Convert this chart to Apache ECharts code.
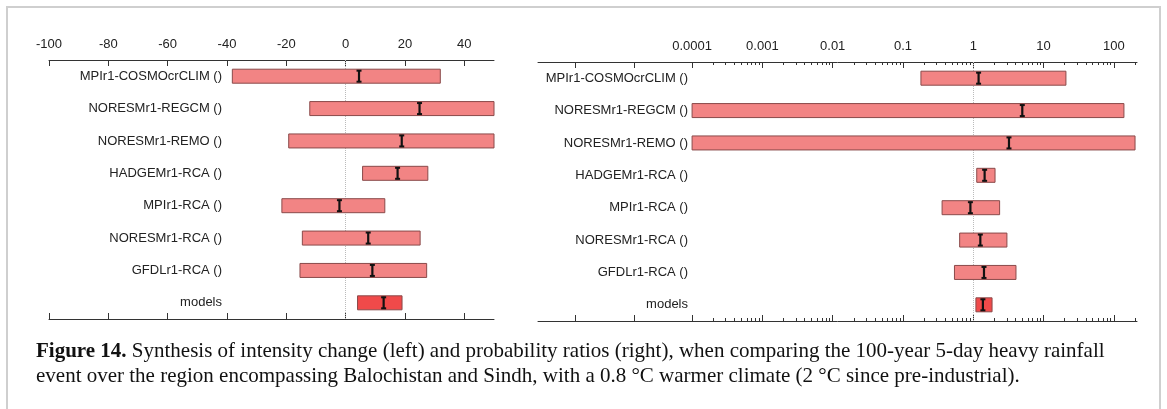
<!DOCTYPE html>
<html>
<head>
<meta charset="utf-8">
<script src="https://cdn.jsdelivr.net/npm/echarts@6/dist/echarts.min.js"></script>
<style>
  html, body { margin: 0; padding: 0; background: #fff; }
  #chart { width: 1167px; height: 409px; }
</style>
</head>
<body>
<div id="chart"></div>
<script>
const models = ['MPIr1-COSMOcrCLIM ()', 'NORESMr1-REGCM ()', 'NORESMr1-REMO ()', 'HADGEMr1-RCA ()',
  'MPIr1-RCA ()', 'NORESMr1-RCA ()', 'GFDLr1-RCA ()', 'models'];

// intensity change (%), left panel
const intLow = [-38.2, -12.1, -19.2, 5.7, -21.5, -14.6, -15.4, 4.0];
const intBest = [4.5, 24.9, 18.9, 17.5, -2.1, 7.6, 9.0, 12.8];
const intHigh = [31.9, 50, 50, 27.7, 13.2, 25.1, 27.3, 19.0];

// probability ratio, right panel
const prLow = [0.18, 0.0001, 0.0001, 1.12, 0.36, 0.64, 0.54, 1.09];
const prBest = [1.19, 4.98, 3.22, 1.45, 0.91, 1.26, 1.42, 1.37];
const prHigh = [20.8, 139, 200, 2.04, 2.37, 3.01, 4.05, 1.85];

const intTicks = [-100, -80, -60, -40, -20, 0, 20, 40];
const prTickLabels = ['0.0001', '0.001', '0.01', '0.1', '1', '10', '100'];
const prExtraTicks = [0.00000216, 0.0000151]; // unlabelled ticks left of 0.0001

const lg = v => Math.log10(v);
const prMajor = prTickLabels.map(t => lg(Number(t)));
const prMinor = [];
prTickLabels.forEach(t => {
  for (let m = 2; m <= 9; m++) {
    const v = m * Number(t);
    if (v <= 210) prMinor.push(lg(v));
  }
});
const prMin = -6.192;
const prMax = 2.329;

const FONT = '"Liberation Sans", Arial, sans-serif';
const AXIS_COLOR = '#333';

function renderRange(params, api) {
  const row = api.value(2);
  const p0 = api.coord([api.value(0), row]);
  const p1 = api.coord([api.value(1), row]);
  const pm = api.coord([api.value(3), row]);
  const h = 14;
  const top = p0[1] - h / 2;
  const bot = p0[1] + h / 2;
  const isAll = row === models.length - 1;
  return {
    type: 'group',
    children: [
      {
        type: 'rect',
        shape: { x: p0[0], y: top, width: p1[0] - p0[0], height: h },
        style: { fill: isAll ? '#f04a4a' : '#f28484', stroke: '#8a4a4a', lineWidth: 1 },
      },
      {
        type: 'line',
        shape: { x1: pm[0], y1: top + 1, x2: pm[0], y2: bot - 1 },
        style: { stroke: '#111', lineWidth: 2.2 },
      },
      {
        type: 'line',
        shape: { x1: pm[0] - 2.5, y1: top + 1.5, x2: pm[0] + 2.5, y2: top + 1.5 },
        style: { stroke: '#111', lineWidth: 2 },
      },
      {
        type: 'line',
        shape: { x1: pm[0] - 2.5, y1: bot - 1.5, x2: pm[0] + 2.5, y2: bot - 1.5 },
        style: { stroke: '#111', lineWidth: 2 },
      },
    ],
  };
}

function xAxis(grid, position, min, max, ticks, tickLen, labels, formatter, showLine) {
  return {
    gridIndex: grid,
    type: 'value',
    position: position,
    min: min,
    max: max,
    axisLine: { show: showLine, lineStyle: { color: AXIS_COLOR, width: 1 } },
    axisTick: { show: true, inside: true, length: tickLen, customValues: ticks, lineStyle: { color: AXIS_COLOR } },
    axisLabel: labels
      ? { show: true, customValues: labels, margin: 9, fontSize: 13, color: '#222', fontFamily: FONT, formatter: formatter }
      : { show: false },
    splitLine: { show: false },
  };
}

function yAxis(grid, offset, margin) {
  return {
    gridIndex: grid,
    type: 'category',
    data: models,
    inverse: true,
    offset: offset,
    axisLine: { show: false },
    axisTick: { show: false },
    axisLabel: { margin: margin, fontSize: 13, color: '#222', fontFamily: FONT },
    splitLine: { show: false },
  };
}

function zeroLine(xi, yi) {
  return {
    type: 'line',
    xAxisIndex: xi,
    yAxisIndex: yi,
    data: [],
    z: 1,
    markLine: {
      silent: true,
      symbol: 'none',
      label: { show: false },
      lineStyle: { type: 'dotted', color: '#bbb', width: 1 },
      data: [{ xAxis: 0 }],
    },
  };
}

const prFormatter = v => {
  const i = prMajor.findIndex(t => Math.abs(t - v) < 1e-6);
  return i >= 0 ? prTickLabels[i] : '';
};

const intData = models.map((m, i) => [intLow[i], intHigh[i], i, intBest[i]]);
const prData = models.map((m, i) => [lg(prLow[i]), lg(prHigh[i]), i, lg(prBest[i])]);

const chart = echarts.init(document.getElementById('chart'));
chart.setOption({
  backgroundColor: '#fff',
  animation: false,
  textStyle: { fontFamily: FONT },
  grid: [
    { left: 49, width: 445, top: 60, height: 259 },
    { left: 538, width: 599, top: 62, height: 259 },
  ],
  xAxis: [
    xAxis(0, 'top', -100, 50, intTicks, 6, intTicks, null, true),
    xAxis(0, 'bottom', -100, 50, intTicks, 6, null, null, true),
    xAxis(1, 'top', prMin, prMax, prExtraTicks.map(lg).concat(prMajor), 6, prMajor, prFormatter, true),
    xAxis(1, 'top', prMin, prMax, prMinor, 3, null, null, false),
    xAxis(1, 'bottom', prMin, prMax, prExtraTicks.map(lg).concat(prMajor), 6, null, null, true),
    xAxis(1, 'bottom', prMin, prMax, prMinor, 3, null, null, false),
  ],
  yAxis: [yAxis(0, -178, 5), yAxis(1, -154, 4)],
  series: [
    zeroLine(0, 0),
    zeroLine(2, 1),
    {
      type: 'custom',
      name: 'intensity',
      xAxisIndex: 0,
      yAxisIndex: 0,
      z: 10,
      renderItem: renderRange,
      encode: { x: [0, 1, 3], y: 2 },
      data: intData,
    },
    {
      type: 'custom',
      name: 'probability ratio',
      xAxisIndex: 2,
      yAxisIndex: 1,
      z: 10,
      renderItem: renderRange,
      encode: { x: [0, 1, 3], y: 2 },
      data: prData,
    },
  ],
  graphic: [
    {
      type: 'rect',
      silent: true,
      shape: { x: 7, y: 7, width: 1153, height: 420 },
      style: { fill: 'none', stroke: '#cfcfcf', lineWidth: 2 },
    },
    {
      type: 'text',
      left: 36,
      top: 339,
      style: {
        text: '{b|Figure 14.} Synthesis of intensity change (left) and probability ratios (right), when comparing the 100-year 5-day heavy rainfall\n' +
          'event over the region encompassing Balochistan and Sindh, with a 0.8 °C warmer climate (2 °C since pre-industrial).',
        fontFamily: '"Liberation Serif", "DejaVu Serif", serif',
        fontSize: 21,
        lineHeight: 25,
        fill: '#111',
        rich: {
          b: { fontWeight: 'bold', fontFamily: '"Liberation Serif", serif', fontSize: 21, lineHeight: 25, fill: '#111' },
        },
      },
    },
  ],
});
</script>
</body>
</html>
